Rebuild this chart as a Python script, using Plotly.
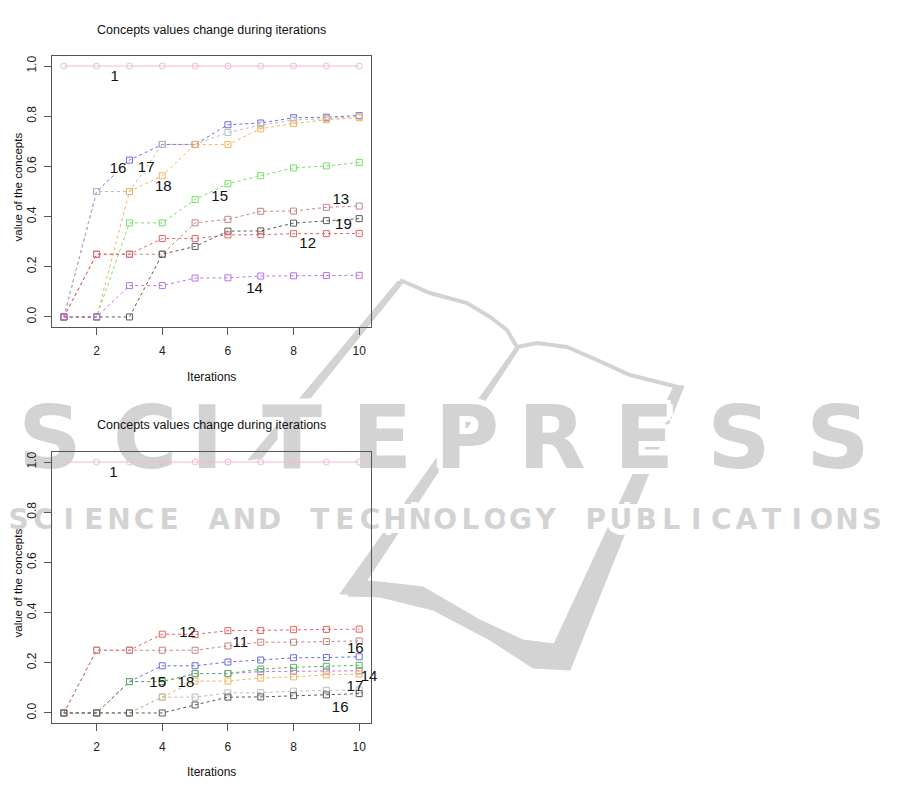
import plotly.graph_objects as go

# reference picture size and the page offset (browser body margin)
REF_W, REF_H = 901, 791
OFF = 8
FW, FH = REF_W - 2 * OFF + 1, REF_H - 2 * OFF + 1

iterations = [1, 2, 3, 4, 5, 6, 7, 8, 9, 10]
x_tick_vals = [2, 4, 6, 8, 10]
y_tick_vals = [0.0, 0.2, 0.4, 0.6, 0.8, 1.0]
y_tick_text = ["0.0", "0.2", "0.4", "0.6", "0.8", "1.0"]

chart_title = "Concepts values change during iterations"
x_title = "Iterations"
y_title = "value of the concepts"

# ---------------- top chart data ----------------
top_c1 = [1.0, 1.0, 1.0, 1.0, 1.0, 1.0, 1.0, 1.0, 1.0, 1.0]
top_c16 = [0.0, 0.5, 0.625, 0.6875, 0.6875, 0.766, 0.773, 0.794, 0.796, 0.803]
top_c17 = [0.0, 0.5, 0.5, 0.6875, 0.6875, 0.735, 0.765, 0.785, 0.790, 0.800]
top_c18 = [0.0, 0.0, 0.5, 0.5625, 0.6875, 0.6875, 0.75, 0.771, 0.786, 0.794]
top_c15 = [0.0, 0.0, 0.375, 0.375, 0.468, 0.531, 0.563, 0.594, 0.602, 0.616]
top_c13 = [0.0, 0.25, 0.25, 0.25, 0.375, 0.389, 0.421, 0.422, 0.437, 0.442]
top_c19 = [0.0, 0.0, 0.0, 0.25, 0.281, 0.342, 0.343, 0.374, 0.384, 0.392]
top_c12 = [0.0, 0.25, 0.25, 0.3125, 0.3125, 0.327, 0.328, 0.332, 0.332, 0.333]
top_c14 = [0.0, 0.0, 0.125, 0.125, 0.155, 0.156, 0.163, 0.164, 0.165, 0.166]

top_label_text = ["1", "16", "17", "18", "15", "13", "19", "12", "14"]
top_label_x = [2.55, 2.65, 3.51, 4.03, 5.75, 9.44, 9.52, 8.43, 6.81]
top_label_y = [0.957, 0.588, 0.591, 0.515, 0.477, 0.465, 0.367, 0.291, 0.112]

# ---------------- bottom chart data ----------------
bot_c1 = [1.0, 1.0, 1.0, 1.0, 1.0, 1.0, 1.0, 1.0, 1.0, 1.0]
bot_c12 = [0.0, 0.25, 0.25, 0.314, 0.313, 0.328, 0.329, 0.332, 0.333, 0.334]
bot_c11 = [0.0, 0.25, 0.25, 0.25, 0.25, 0.267, 0.282, 0.282, 0.285, 0.287]
bot_c16a = [0.0, 0.0, 0.125, 0.188, 0.188, 0.203, 0.211, 0.220, 0.221, 0.224]
bot_c14 = [0.0, 0.0, 0.125, 0.125, 0.157, 0.157, 0.165, 0.166, 0.167, 0.168]
bot_c15 = [0.0, 0.0, 0.125, 0.125, 0.157, 0.157, 0.175, 0.182, 0.186, 0.190]
bot_c18 = [0.0, 0.0, 0.0, 0.063, 0.127, 0.127, 0.139, 0.144, 0.152, 0.155]
bot_c17 = [0.0, 0.0, 0.0, 0.063, 0.063, 0.080, 0.081, 0.087, 0.090, 0.092]
bot_c16b = [0.0, 0.0, 0.0, 0.0, 0.032, 0.063, 0.064, 0.069, 0.072, 0.077]

bot_label_text = ["1", "12", "11", "16", "14", "17", "16", "15", "18"]
bot_label_x = [2.51, 4.77, 6.38, 9.88, 10.3, 9.87, 9.42, 3.86, 4.72]
bot_label_y = [0.955, 0.317, 0.277, 0.252, 0.141, 0.101, 0.017, 0.12, 0.12]

# colours
PINK = "#f4bccb"
BLUE = "#6b6be8"
LGREY = "#bdbdbd"
ORANGE = "#f7b358"
GREEN = "#77e067"
DGREEN = "#55bb55"
ROSY = "#c48484"
DARK = "#5a5a5a"
RED = "#e46464"
PURPLE = "#b874e8"

top_series = [
    (top_c1, PINK, "circle"),
    (top_c16, BLUE, "square"),
    (top_c17, LGREY, "square"),
    (top_c18, ORANGE, "square"),
    (top_c15, GREEN, "square"),
    (top_c13, ROSY, "square"),
    (top_c19, DARK, "square"),
    (top_c12, RED, "square"),
    (top_c14, PURPLE, "square"),
]
bot_series = [
    (bot_c1, PINK, "circle"),
    (bot_c12, RED, "square"),
    (bot_c11, ROSY, "square"),
    (bot_c16a, BLUE, "square"),
    (bot_c14, PURPLE, "square"),
    (bot_c15, DGREEN, "square"),
    (bot_c18, ORANGE, "square"),
    (bot_c17, LGREY, "square"),
    (bot_c16b, DARK, "square"),
]

# ---------------- watermark (decoration) ----------------
WM = "#d3d3d3"
wm_big_letters = list("SCITEPRESS")
wm_big_x = [50, 145, 207, 292, 382, 467, 552, 644, 739, 838]
wm_big_y = 446
wm_small_text = "SCIENCE AND TECHNOLOGY PUBLICATIONS"
wm_small_start, wm_small_pitch = 6, 25.1
wm_small_y = 522

fig = go.Figure()

halo = ("6px 0 0 #fff, -6px 0 0 #fff, 0 6px 0 #fff, 0 -6px 0 #fff, "
        "4px 4px 0 #fff, -4px 4px 0 #fff, 4px -4px 0 #fff, -4px -4px 0 #fff")
fig.add_trace(go.Scatter(
    x=wm_big_x, y=[wm_big_y] * len(wm_big_x), text=wm_big_letters,
    mode="text", textposition="middle center", hoverinfo="skip",
    textfont=dict(family="DejaVu Sans", size=88, color=WM, weight="bold", shadow=halo),
    xaxis="x", yaxis="y", showlegend=False))
small_letters = [ch for ch in wm_small_text]
small_x = [wm_small_start + (i + 0.5) * wm_small_pitch for i in range(len(small_letters))]
fig.add_trace(go.Scatter(
    x=small_x, y=[wm_small_y] * len(small_x), text=small_letters,
    mode="text", textposition="middle center", hoverinfo="skip",
    textfont=dict(family="DejaVu Sans", size=28, color=WM, weight="bold", shadow=halo),
    xaxis="x", yaxis="y", showlegend=False))


def px(x, y):
    return f"{(x - OFF) / FW:.5f},{1 - (y - OFF) / FH:.5f}"


def path(points, close=False):
    s = "M " + " L ".join(px(x, y) for x, y in points)
    return s + (" Z" if close else "")


def poly(points):
    return dict(type="path", path=path(points, True), fillcolor=WM,
                line=dict(color=WM, width=1), xref="paper", yref="paper", layer="below")


shapes = []
top_outline = [(400, 280), (430, 293), (467, 303), (490, 317), (507, 330), (517, 347),
               (537, 343), (567, 347), (597, 360), (630, 375), (682, 388)]
shapes.append(dict(type="path", path=path(top_outline), line=dict(color=WM, width=4),
                   xref="paper", yref="paper", layer="below"))
shapes.append(poly([(398, 281), (403, 283), (312, 396), (300, 398)]))
shapes.append(poly([(300, 398), (312, 396), (262, 458), (248, 460)]))
shapes.append(poly([(515, 348), (519, 349), (358, 594), (340, 594)]))
shapes.append(poly([(674, 386), (684, 386), (570, 670), (554, 644)]))
shapes.append(poly([(350, 580), (380, 582), (423, 587), (480, 620), (523, 640), (554, 644),
                    (570, 670), (533, 668), (490, 640), (433, 610), (380, 597), (348, 596)]))

# ---------------- chart traces ----------------
for vals, col, sym in top_series:
    fig.add_trace(go.Scatter(
        x=iterations, y=vals, mode="lines+markers", xaxis="x2", yaxis="y2",
        line=dict(color=col, width=1, dash="solid" if sym == "circle" else "3px,3px"),
        marker=dict(symbol=sym + "-open", size=6, color=col, line=dict(width=1, color=col)),
        showlegend=False, cliponaxis=False))
fig.add_trace(go.Scatter(
    x=top_label_x, y=top_label_y, text=top_label_text, mode="text", xaxis="x2", yaxis="y2",
    textfont=dict(family="Liberation Sans", size=15, color="#111"), showlegend=False, cliponaxis=False))

for vals, col, sym in bot_series:
    fig.add_trace(go.Scatter(
        x=iterations, y=vals, mode="lines+markers", xaxis="x3", yaxis="y3",
        line=dict(color=col, width=1, dash="solid" if sym == "circle" else "3px,3px"),
        marker=dict(symbol=sym + "-open", size=6, color=col, line=dict(width=1, color=col)),
        showlegend=False, cliponaxis=False))
fig.add_trace(go.Scatter(
    x=bot_label_x, y=bot_label_y, text=bot_label_text, mode="text", xaxis="x3", yaxis="y3",
    textfont=dict(family="Liberation Sans", size=15, color="#111"), showlegend=False, cliponaxis=False))

# ---------------- layout ----------------
FONT = "Liberation Sans"
AX = "#555"
boxes = {"top": (52, 371, 56, 327), "bot": (52, 371, 452, 723)}


def fx(x):
    return (x - OFF) / FW


def fy(y):
    return 1 - (y - OFF) / FH


def xax(box, anchor):
    l, r, t, b = box
    return dict(domain=[fx(l), fx(r)], range=[0.64, 10.36], anchor=anchor,
                tickvals=x_tick_vals, ticks="outside", ticklen=7, tickcolor=AX,
                showline=True, mirror=True, linecolor=AX, linewidth=1,
                showgrid=False, zeroline=False, ticklabelstandoff=6,
                tickfont=dict(family=FONT, size=12, color="#222"))


def yax(box, anchor):
    l, r, t, b = box
    return dict(domain=[fy(b), fy(t)], range=[-0.04, 1.04], anchor=anchor,
                tickvals=y_tick_vals, ticktext=y_tick_text, tickangle=-90,
                ticks="outside", ticklen=7, tickcolor=AX,
                showline=True, mirror=True, linecolor=AX, linewidth=1,
                showgrid=False, zeroline=False, ticklabelstandoff=3,
                tickfont=dict(family=FONT, size=12, color="#222"))


annotations = []
for key, title_y, xt_y in (("top", 30, 377), ("bot", 425, 772)):
    l, r, t, b = boxes[key]
    annotations.append(dict(text=chart_title, x=fx((l + r) / 2), y=fy(title_y),
                            xref="paper", yref="paper", showarrow=False,
                            xanchor="center", yanchor="middle",
                            font=dict(family=FONT, size=12.5, color="#111")))
    annotations.append(dict(text=x_title, x=fx((l + r) / 2), y=fy(xt_y),
                            xref="paper", yref="paper", showarrow=False,
                            xanchor="center", yanchor="middle",
                            font=dict(family=FONT, size=12, color="#111")))
    annotations.append(dict(text=y_title, x=fx(9), y=fy((t + b) / 2 - 4),
                            xref="paper", yref="paper", showarrow=False, textangle=-90,
                            xanchor="left", yanchor="middle",
                            font=dict(family=FONT, size=11.5, color="#111")))

fig.update_layout(
    width=FW, height=FH, margin=dict(l=0, r=0, t=0, b=0),
    paper_bgcolor="white", plot_bgcolor="rgba(0,0,0,0)",
    showlegend=False,
    xaxis=dict(domain=[0, 1], range=[OFF, OFF + FW], visible=False, fixedrange=True),
    yaxis=dict(domain=[0, 1], range=[OFF + FH, OFF], visible=False, fixedrange=True),
    xaxis2=xax(boxes["top"], "y2"), yaxis2=yax(boxes["top"], "x2"),
    xaxis3=xax(boxes["bot"], "y3"), yaxis3=yax(boxes["bot"], "x3"),
    shapes=shapes, annotations=annotations,
)

fig.write_html("out.html")
